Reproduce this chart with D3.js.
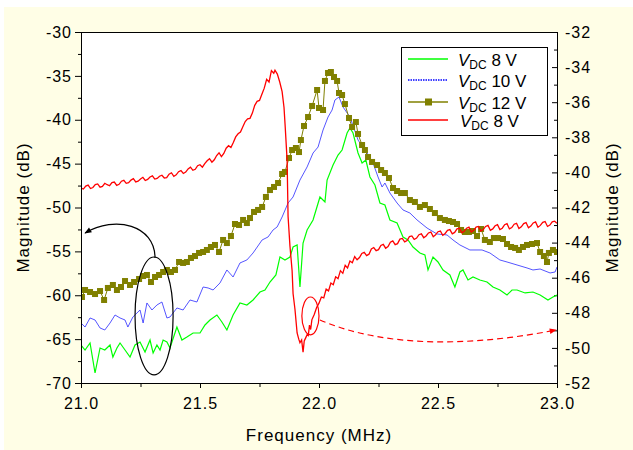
<!DOCTYPE html>
<html>
<head>
<meta charset="utf-8">
<script src="https://cdn.jsdelivr.net/npm/d3@7"></script>
<style>
body { margin: 0; background: #fff; }
svg text { font-family: "Liberation Sans", Arial, sans-serif; }
.axis text { font-size: 16px; letter-spacing: 1px; fill: #000; }
.axis line { stroke: #000; }
.axis path { display: none; }
</style>
</head>
<body>
<div id="chart"></div>
<script>
// frequency (MHz), magnitude (dB)
var green8V = [[21.00,-65.67],[21.017,-66.24],[21.038,-65.44],[21.059,-68.86],[21.08,-66.01],[21.10,-66.24],[21.122,-65.67],[21.134,-67.04],[21.151,-66.01],[21.164,-65.44],[21.185,-66.24],[21.206,-67.04],[21.227,-65.67],[21.248,-65.33],[21.269,-66.47],[21.29,-65.10],[21.303,-66.58],[21.319,-65.67],[21.332,-66.24],[21.345,-65.10],[21.361,-65.33],[21.374,-66.01],[21.403,-63.62],[21.424,-65.10],[21.445,-64.76],[21.471,-64.30],[21.50,-64.30],[21.521,-63.39],[21.542,-62.82],[21.571,-62.25],[21.592,-63.05],[21.613,-63.96],[21.639,-62.25],[21.668,-60.88],[21.697,-61.11],[21.723,-60.54],[21.752,-59.63],[21.773,-59.40],[21.794,-58.49],[21.819,-57.69],[21.836,-55.64],[21.857,-55.98],[21.878,-55.64],[21.891,-54.50],[21.908,-54.27],[21.92,-59.06],[21.933,-54.05],[21.95,-52.56],[21.975,-51.42],[22.004,-48.80],[22.025,-49.37],[22.034,-46.87],[22.059,-45.16],[22.08,-44.02],[22.097,-43.45],[22.118,-41.51],[22.13,-40.94],[22.143,-41.51],[22.164,-43.79],[22.181,-44.93],[22.197,-44.59],[22.214,-46.52],[22.235,-47.44],[22.256,-49.49],[22.277,-49.71],[22.298,-51.42],[22.328,-51.77],[22.353,-53.36],[22.374,-53.70],[22.395,-54.50],[22.424,-55.18],[22.445,-55.41],[22.458,-57.12],[22.479,-55.64],[22.50,-56.21],[22.521,-57.12],[22.55,-57.69],[22.571,-59.06],[22.592,-57.35],[22.605,-57.12],[22.626,-58.26],[22.647,-57.92],[22.676,-58.26],[22.706,-58.49],[22.731,-59.06],[22.76,-59.40],[22.79,-59.97],[22.811,-59.40],[22.832,-59.40],[22.866,-59.74],[22.899,-59.63],[22.929,-59.97],[22.962,-60.54],[22.983,-60.20],[23.00,-59.97]];

var blue10V = [[21.00,-63.16],[21.017,-63.62],[21.038,-62.59],[21.059,-62.82],[21.08,-63.73],[21.10,-63.96],[21.122,-63.16],[21.143,-62.25],[21.164,-62.59],[21.185,-62.82],[21.197,-63.62],[21.218,-62.48],[21.248,-61.68],[21.261,-63.16],[21.277,-60.88],[21.298,-61.68],[21.319,-61.11],[21.34,-60.77],[21.361,-62.59],[21.374,-62.48],[21.403,-61.45],[21.429,-61.68],[21.458,-60.54],[21.487,-60.77],[21.513,-59.06],[21.534,-59.17],[21.555,-59.40],[21.584,-58.60],[21.613,-57.12],[21.639,-57.92],[21.668,-56.32],[21.697,-55.98],[21.723,-55.18],[21.761,-53.70],[21.786,-53.36],[21.807,-52.56],[21.824,-52.22],[21.845,-51.08],[21.87,-49.49],[21.891,-48.80],[21.92,-46.87],[21.95,-45.38],[21.975,-43.79],[21.996,-43.11],[22.017,-41.17],[22.038,-39.69],[22.055,-38.89],[22.067,-37.75],[22.084,-37.41],[22.101,-38.55],[22.13,-39.69],[22.164,-42.31],[22.202,-43.79],[22.227,-44.93],[22.248,-46.52],[22.265,-47.66],[22.277,-47.21],[22.298,-48.35],[22.328,-49.49],[22.353,-50.28],[22.382,-50.63],[22.412,-51.42],[22.454,-52.34],[22.496,-53.02],[22.538,-53.13],[22.563,-53.70],[22.592,-54.27],[22.634,-54.84],[22.685,-54.84],[22.718,-55.18],[22.76,-55.98],[22.79,-56.21],[22.832,-56.55],[22.874,-56.89],[22.899,-57.12],[22.929,-57.01],[22.971,-57.46],[22.992,-57.35],[23.00,-56.78]];

var olive12V = [[21.004,-60.20],[21.017,-59.40],[21.038,-59.63],[21.059,-59.86],[21.08,-59.52],[21.097,-60.54],[21.113,-59.17],[21.134,-58.83],[21.151,-59.40],[21.168,-59.06],[21.185,-58.38],[21.206,-58.83],[21.223,-58.49],[21.244,-58.15],[21.261,-57.81],[21.277,-57.69],[21.294,-58.49],[21.311,-57.92],[21.328,-57.69],[21.345,-57.35],[21.361,-57.12],[21.378,-57.35],[21.395,-57.12],[21.412,-56.21],[21.429,-56.32],[21.445,-56.21],[21.462,-55.75],[21.479,-55.53],[21.496,-55.18],[21.513,-55.07],[21.529,-54.84],[21.546,-54.50],[21.563,-54.27],[21.58,-55.07],[21.597,-53.70],[21.613,-54.05],[21.63,-53.25],[21.647,-51.88],[21.664,-51.99],[21.681,-51.42],[21.697,-51.77],[21.71,-51.20],[21.727,-50.51],[21.744,-50.28],[21.761,-49.94],[21.777,-48.80],[21.794,-48.01],[21.811,-47.66],[21.828,-47.21],[21.845,-46.18],[21.857,-45.95],[21.874,-44.36],[21.887,-43.45],[21.903,-43.22],[21.916,-43.68],[21.924,-42.31],[21.937,-40.71],[21.954,-39.69],[21.971,-38.43],[21.992,-36.61],[22.00,-38.66],[22.017,-38.89],[22.025,-35.58],[22.038,-34.67],[22.05,-34.56],[22.063,-35.13],[22.076,-35.58],[22.084,-36.95],[22.097,-37.18],[22.109,-38.21],[22.126,-39.80],[22.139,-40.83],[22.155,-40.26],[22.164,-41.62],[22.181,-42.88],[22.193,-43.45],[22.206,-44.25],[22.223,-44.81],[22.244,-45.16],[22.261,-45.73],[22.277,-46.07],[22.294,-46.64],[22.311,-47.78],[22.328,-48.12],[22.345,-48.35],[22.361,-48.35],[22.382,-49.15],[22.403,-49.37],[22.424,-49.94],[22.445,-49.72],[22.466,-50.17],[22.487,-50.63],[22.508,-51.20],[22.529,-51.42],[22.546,-51.54],[22.563,-51.65],[22.58,-51.88],[22.597,-52.56],[22.613,-52.79],[22.63,-52.79],[22.647,-52.68],[22.664,-53.25],[22.681,-52.45],[22.697,-53.70],[22.718,-53.93],[22.735,-53.48],[22.752,-53.48],[22.773,-53.59],[22.79,-54.16],[22.807,-54.50],[22.824,-54.61],[22.84,-54.84],[22.857,-54.50],[22.874,-54.27],[22.895,-54.16],[22.916,-54.05],[22.929,-55.07],[22.945,-55.53],[22.958,-56.21],[22.966,-55.18],[22.983,-54.84],[23.00,-55.07]];

// red trace uses the right-hand axis
var red8V = [[21.00,-40.89],[21.02,-40.78],[21.04,-40.92],[21.06,-40.70],[21.08,-40.84],[21.10,-40.62],[21.12,-40.76],[21.14,-40.55],[21.16,-40.68],[21.18,-40.45],[21.20,-40.58],[21.22,-40.36],[21.24,-40.50],[21.26,-40.28],[21.28,-40.40],[21.30,-40.20],[21.32,-40.34],[21.34,-40.16],[21.36,-40.30],[21.38,-40.02],[21.40,-40.14],[21.42,-39.90],[21.44,-39.98],[21.46,-39.70],[21.48,-39.82],[21.50,-39.56],[21.52,-39.50],[21.54,-39.22],[21.56,-39.28],[21.58,-38.88],[21.60,-38.92],[21.62,-38.48],[21.64,-38.30],[21.66,-37.80],[21.68,-37.40],[21.70,-36.95],[21.72,-36.62],[21.74,-35.95],[21.76,-35.55],[21.78,-34.70],[21.79,-34.85],[21.80,-34.20],[21.81,-34.35],[21.815,-34.18],[21.825,-34.40],[21.835,-34.85],[21.845,-35.40],[21.853,-36.30],[21.858,-37.40],[21.866,-39.30],[21.87,-42.50],[21.878,-44.20],[21.887,-45.60],[21.891,-46.90],[21.899,-47.80],[21.908,-49.15],[21.915,-49.50],[21.92,-49.70],[21.927,-49.55],[21.933,-50.25],[21.938,-49.60],[21.945,-49.40],[21.95,-49.25],[21.955,-49.30],[21.96,-48.70],[21.965,-48.95],[21.97,-48.40],[21.98,-48.10],[21.99,-47.70],[22.00,-47.45],[22.01,-47.10],[22.02,-47.15],[22.03,-46.65],[22.04,-46.75],[22.05,-46.30],[22.06,-46.40],[22.07,-45.95],[22.08,-46.05],[22.09,-45.60],[22.10,-45.75],[22.11,-45.30],[22.12,-45.45],[22.13,-45.05],[22.14,-45.15],[22.15,-44.80],[22.16,-44.98],[22.18,-44.62],[22.20,-44.74],[22.22,-44.36],[22.24,-44.46],[22.26,-44.16],[22.28,-44.32],[22.30,-43.98],[22.32,-44.12],[22.34,-43.80],[22.36,-43.96],[22.38,-43.66],[22.40,-43.82],[22.42,-43.55],[22.44,-43.72],[22.46,-43.45],[22.48,-43.66],[22.50,-43.38],[22.52,-43.58],[22.54,-43.30],[22.56,-43.50],[22.58,-43.22],[22.60,-43.44],[22.62,-43.18],[22.64,-43.40],[22.66,-43.12],[22.68,-43.34],[22.70,-43.08],[22.72,-43.30],[22.74,-43.04],[22.76,-43.26],[22.78,-42.98],[22.80,-43.22],[22.82,-42.95],[22.84,-43.20],[22.86,-42.92],[22.88,-43.16],[22.90,-42.88],[22.92,-43.12],[22.94,-42.85],[22.96,-43.08],[22.98,-42.82],[23.00,-42.90]];
// extra readings between the ones above, where the red trace is noisiest
var red8VFine = [[21.01,-40.95],[21.03,-40.72],[21.05,-40.86],[21.07,-40.66],[21.09,-40.80],[21.11,-40.70],[21.13,-40.58],[21.15,-40.74],[21.17,-40.50],[21.19,-40.62],[21.21,-40.44],[21.23,-40.54],[21.25,-40.38],[21.27,-40.46],[21.29,-40.26],[21.31,-40.38],[21.33,-40.22],[21.35,-40.32],[21.37,-40.10],[21.39,-40.22],[21.41,-39.96],[21.43,-40.06],[21.45,-39.80],[21.47,-39.88],[21.49,-39.62],[21.51,-39.70],[21.53,-39.34],[21.55,-39.42],[21.57,-39.04],[21.59,-39.10],[21.61,-38.62],[21.63,-38.58],[21.65,-37.98],[21.67,-37.70],[21.69,-37.10],[21.71,-36.92],[21.73,-36.18],[21.75,-35.90],[21.77,-35.20],[22.17,-44.85],[22.19,-44.55],[22.21,-44.66],[22.23,-44.28],[22.25,-44.40],[22.27,-44.10],[22.29,-44.22],[22.31,-43.90],[22.33,-44.06],[22.35,-43.76],[22.37,-43.88],[22.39,-43.62],[22.41,-43.74],[22.43,-43.50],[22.45,-43.62],[22.47,-43.40],[22.49,-43.55],[22.51,-43.34],[22.53,-43.48],[22.55,-43.26],[22.57,-43.42],[22.59,-43.18],[22.61,-43.36],[22.63,-43.12],[22.65,-43.30],[22.67,-43.08],[22.69,-43.26],[22.71,-43.02],[22.73,-43.22],[22.75,-42.98],[22.77,-43.18],[22.79,-42.92],[22.81,-43.14],[22.83,-42.90],[22.85,-43.10],[22.87,-42.86],[22.89,-43.06],[22.91,-42.82],[22.93,-43.02],[22.95,-42.80],[22.97,-43.00],[22.99,-42.78]];

var freqTicks = [21.0, 21.5, 22.0, 22.5, 23.0];
var freqMinor = [21.25, 21.75, 22.25, 22.75];
var leftTicks = [-70, -65, -60, -55, -50, -45, -40, -35, -30];
var leftMinor = [-67.5, -62.5, -57.5, -52.5, -47.5, -42.5, -37.5, -32.5];
var rightTicks = [-52, -50, -48, -46, -44, -42, -40, -38, -36, -34, -32];
var rightMinor = [-51, -49, -47, -45, -43, -41, -39, -37, -35, -33];
var legendLabels = ["8 V", "10 V", "12 V", "8 V"];

// annotation shapes (data units)
var blackEllipse = {f: 21.307, db: -62.36, rf: 0.08, rdb: 6.72};
var blackArrow = [[21.311, -55.75], [21.311, -52.0], [21.143, -50.85], [21.017, -52.91]];
var redEllipse = {f: 21.964, v: -48.18, rf: 0.036, rv: 1.08};
var redArrow = [[22.004, -48.41], [22.298, -50.12], [22.676, -49.83], [22.996, -48.98]];

var margin = {top: 32, right: 76, bottom: 67, left: 81},
    width = 633 - margin.left - margin.right,
    height = 450 - margin.top - margin.bottom;

var x = d3.scaleLinear().domain([21, 23]).range([0, width]);
var yL = d3.scaleLinear().domain([-70, -30]).range([height, 0]);
var yR = d3.scaleLinear().domain([-52, -32]).range([height, 0]);

// plain hyphen for negatives, like the original
var plain = function(d) { return String(d); };

var svg = d3.select("#chart").append("svg")
    .attr("width", 633)
    .attr("height", 450);

svg.append("rect")
    .attr("x", 4).attr("y", 7)
    .attr("width", 629).attr("height", 443)
    .style("fill", "#fffee6");

var defs = svg.append("defs");
defs.append("clipPath").attr("id", "clip")
    .append("rect").attr("width", width).attr("height", height);
defs.append("marker").attr("id", "headBlack")
    .attr("viewBox", "0 0 10 10").attr("refX", 9).attr("refY", 5)
    .attr("markerWidth", 9).attr("markerHeight", 7).attr("orient", "auto")
    .attr("markerUnits", "userSpaceOnUse")
    .append("path").attr("d", "M0,1L10,5L0,9z").style("fill", "#000");
defs.append("marker").attr("id", "headRed")
    .attr("viewBox", "0 0 10 10").attr("refX", 9).attr("refY", 5)
    .attr("markerWidth", 9).attr("markerHeight", 7).attr("orient", "auto")
    .attr("markerUnits", "userSpaceOnUse")
    .append("path").attr("d", "M0,1L10,5L0,9z").style("fill", "#f00");

var g = svg.append("g")
    .attr("transform", "translate(" + margin.left + "," + margin.top + ")");

g.append("rect")
    .attr("width", width).attr("height", height)
    .style("fill", "#fff");

// axes
g.append("g").attr("class", "axis")
    .attr("transform", "translate(0," + height + ")")
    .call(d3.axisBottom(x).tickValues(freqTicks).tickFormat(d3.format(".1f"))
        .tickSize(5).tickPadding(10));
g.append("g").attr("class", "axis")
    .attr("transform", "translate(0," + height + ")")
    .call(d3.axisBottom(x).tickValues(freqMinor).tickFormat("").tickSize(4));
g.append("g").attr("class", "axis")
    .call(d3.axisLeft(yL).tickValues(leftTicks).tickFormat(plain).tickSize(6).tickPadding(3));
g.append("g").attr("class", "axis")
    .call(d3.axisLeft(yL).tickValues(leftMinor).tickFormat("").tickSize(3));
g.append("g").attr("class", "axis")
    .attr("transform", "translate(" + width + ",0)")
    .call(d3.axisRight(yR).tickValues(rightTicks).tickFormat(plain).tickSize(-5).tickPadding(8));
g.append("g").attr("class", "axis")
    .attr("transform", "translate(" + width + ",0)")
    .call(d3.axisRight(yR).tickValues(rightMinor).tickFormat("").tickSize(-3));

// curves
var plot = g.append("g").attr("clip-path", "url(#clip)");

var lineL = d3.line()
    .x(function(d) { return x(d[0]); })
    .y(function(d) { return yL(d[1]); });
var lineR = d3.line()
    .x(function(d) { return x(d[0]); })
    .y(function(d) { return yR(d[1]); });

plot.append("path").datum(green8V)
    .attr("d", lineL)
    .style("fill", "none").style("stroke", "#00ff00").style("stroke-width", 1.2);
plot.append("path").datum(blue10V)
    .attr("d", lineL)
    .style("fill", "none").style("stroke", "#2a2aff").style("stroke-width", 0.8);
plot.append("path").datum(olive12V)
    .attr("d", lineL)
    .style("fill", "none").style("stroke", "#808000").style("stroke-width", 1);
plot.selectAll(".sq")
    .data(olive12V)
    .enter().append("rect")
    .attr("class", "sq")
    .attr("x", function(d) { return x(d[0]) - 3; })
    .attr("y", function(d) { return yL(d[1]) - 3; })
    .attr("width", 6).attr("height", 6)
    .style("fill", "#808000");

var redAll = red8V.concat(red8VFine).sort(function(a, b) { return a[0] - b[0]; });
plot.append("path").datum(redAll)
    .attr("d", lineR)
    .style("fill", "none").style("stroke", "#ff0000").style("stroke-width", 1.3);

// annotations
g.append("ellipse")
    .attr("cx", x(blackEllipse.f)).attr("cy", yL(blackEllipse.db))
    .attr("rx", x(21 + blackEllipse.rf) - x(21))
    .attr("ry", yL(-70) - yL(-70 + blackEllipse.rdb))
    .style("fill", "none").style("stroke", "#000").style("stroke-width", 1.2);

var ba = blackArrow.map(function(d) { return [x(d[0]), yL(d[1])]; });
g.append("path")
    .attr("d", "M" + ba[0] + "C" + ba[1] + " " + ba[2] + " " + ba[3])
    .attr("marker-end", "url(#headBlack)")
    .style("fill", "none").style("stroke", "#000").style("stroke-width", 1.2);

g.append("ellipse")
    .attr("cx", x(redEllipse.f)).attr("cy", yR(redEllipse.v))
    .attr("rx", x(21 + redEllipse.rf) - x(21))
    .attr("ry", yR(-52) - yR(-52 + redEllipse.rv))
    .style("fill", "none").style("stroke", "#f00").style("stroke-width", 1.2);

var ra = redArrow.map(function(d) { return [x(d[0]), yR(d[1])]; });
g.append("path")
    .attr("d", "M" + ra[0] + "C" + ra[1] + " " + ra[2] + " " + ra[3])
    .attr("marker-end", "url(#headRed)")
    .style("fill", "none").style("stroke", "#f00").style("stroke-width", 1.2)
    .style("stroke-dasharray", "6,4");

// frame
g.append("rect")
    .attr("x", 0.5).attr("y", 0.5)
    .attr("width", width).attr("height", height)
    .style("fill", "none").style("stroke", "#000").style("stroke-width", 1);

// axis titles
svg.append("text")
    .attr("x", margin.left + width / 2).attr("y", 441)
    .attr("text-anchor", "middle")
    .style("font-size", "17px").style("letter-spacing", "1px")
    .text("Frequency (MHz)");
svg.append("text")
    .attr("transform", "translate(29," + (margin.top + height / 2) + ") rotate(-90)")
    .attr("text-anchor", "middle")
    .style("font-size", "17px").style("letter-spacing", "1px")
    .text("Magnitude (dB)");
svg.append("text")
    .attr("transform", "translate(618," + (margin.top + height / 2) + ") rotate(-90)")
    .attr("text-anchor", "middle")
    .style("font-size", "17px").style("letter-spacing", "1px")
    .text("Magnitude (dB)");

// legend
var legend = svg.append("g").attr("transform", "translate(401,47)");
legend.append("rect")
    .attr("x", 0.5).attr("y", 0.5)
    .attr("width", 146).attr("height", 88)
    .style("fill", "#fff").style("stroke", "#000").style("stroke-width", 1);

var legendColors = ["#00ff00", "#0000ff", "#808000", "#ff0000"];
var legendDash = [null, "1.5,1", null, null];
var rowY = [12, 33, 55, 73];

var rows = legend.selectAll(".row")
    .data(legendLabels)
    .enter().append("g")
    .attr("class", "row")
    .attr("transform", function(d, i) { return "translate(0," + rowY[i] + ")"; });

rows.append("line")
    .attr("x1", 7).attr("x2", 47)
    .style("stroke", function(d, i) { return legendColors[i]; })
    .style("stroke-width", 1.5)
    .style("stroke-dasharray", function(d, i) { return legendDash[i]; });

rows.filter(function(d, i) { return i == 2; })
    .append("rect")
    .attr("x", 24).attr("y", -3.5).attr("width", 7).attr("height", 7)
    .style("fill", "#808000");

var label = rows.append("text")
    .attr("x", function(d, i) { return i == 3 ? 59 : 57; })
    .attr("y", 7)
    .style("font-size", "17px");
label.append("tspan").style("font-style", "italic").text("V");
label.append("tspan").style("font-size", "12px").attr("dy", 3).text("DC");
label.append("tspan").attr("dy", -3).text(function(d) { return " " + d; });
</script>
</body>
</html>
